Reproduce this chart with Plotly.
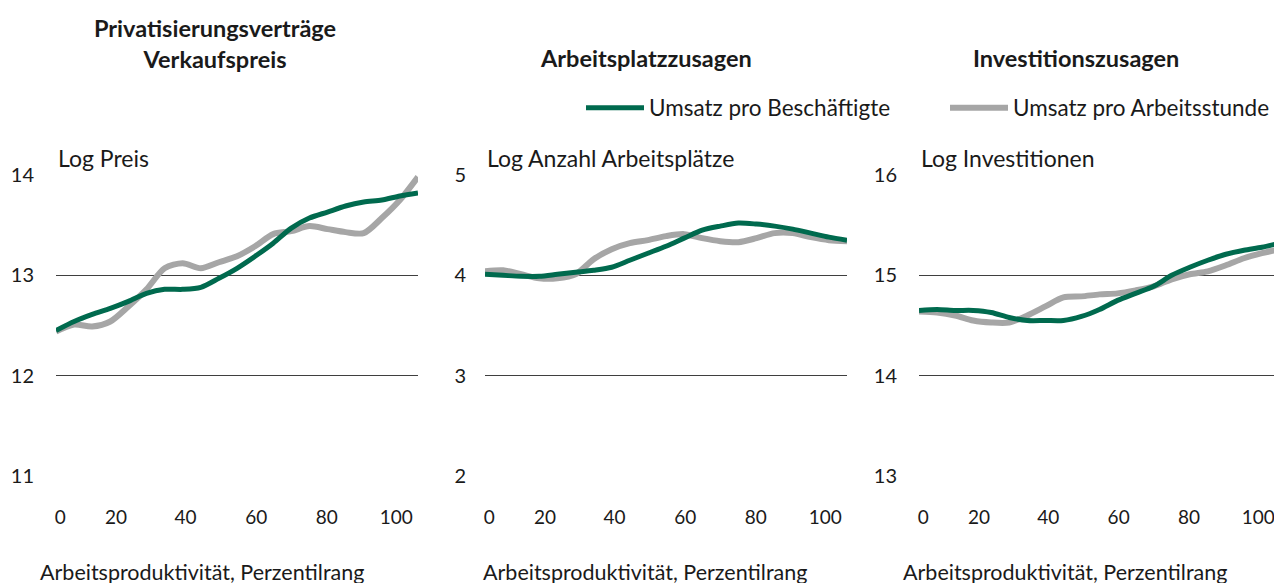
import plotly.graph_objects as go

# ---------------- data ----------------
PCT = [0, 5, 10, 15, 20, 25, 30, 35, 40, 45, 50, 55, 60, 65, 70, 75, 80, 85, 90, 95, 100]

PREIS_BESCH = [12.45, 12.54, 12.61, 12.67, 12.74, 12.82, 12.86, 12.86, 12.88, 12.97, 13.07,
               13.19, 13.32, 13.47, 13.57, 13.63, 13.69, 13.73, 13.75, 13.79, 13.82]
PREIS_STUNDE = [12.44, 12.51, 12.49, 12.54, 12.69, 12.86, 13.07, 13.12, 13.07, 13.13, 13.19,
                13.29, 13.41, 13.44, 13.49, 13.46, 13.43, 13.42, 13.57, 13.75, 13.98]

JOBS_BESCH = [4.01, 4.00, 3.99, 3.99, 4.01, 4.03, 4.05, 4.08, 4.15, 4.22, 4.29,
              4.37, 4.45, 4.49, 4.52, 4.51, 4.49, 4.46, 4.42, 4.38, 4.35]
JOBS_STUNDE = [4.04, 4.05, 4.01, 3.97, 3.97, 4.01, 4.16, 4.26, 4.32, 4.35, 4.39,
               4.41, 4.37, 4.34, 4.33, 4.37, 4.42, 4.42, 4.38, 4.35, 4.34]

INV_BESCH = [14.65, 14.66, 14.65, 14.65, 14.63, 14.58, 14.55, 14.55, 14.55, 14.59, 14.66,
             14.75, 14.82, 14.89, 15.00, 15.08, 15.15, 15.21, 15.25, 15.28, 15.32]
INV_STUNDE = [14.64, 14.63, 14.60, 14.55, 14.53, 14.53, 14.60, 14.69, 14.78, 14.79, 14.81,
              14.82, 14.85, 14.89, 14.96, 15.01, 15.04, 15.10, 15.17, 15.22, 15.26]

SERIES_NAMES = ["Umsatz pro Beschäftigte", "Umsatz pro Arbeitsstunde"]
PANEL_TITLES = ["Privatisierungsverträge<br>Verkaufspreis", "Arbeitsplatzzusagen", "Investitionszusagen"]
Y_TITLES = ["Log Preis", "Log Anzahl Arbeitsplätze", "Log Investitionen"]
X_TITLE = "Arbeitsproduktivität, Perzentilrang"
Y_RANGES = [[11, 14], [2, 5], [13, 16]]
Y_TICKS = [[11, 12, 13, 14], [2, 3, 4, 5], [13, 14, 15, 16]]
X_TICK_TEXT = ["0", "20", "40", "60", "80", "100"]
X_TICK_POS = [1.2, 16.6, 35.8, 55.3, 74.8, 94.0]

# ---------------- style ----------------
GREEN = "#006a4e"
GREY = "#a6a6a6"
GRID = "#3f3f3f"
FONT = "Lato"
TXT = "#1a1a1a"
W, H = 1282, 583
OFF = 8  # page offset of the plot div


def px(x):
    return (x - OFF) / W


def py(y):
    return 1 - (y - OFF) / H


panels = [(PREIS_BESCH, PREIS_STUNDE), (JOBS_BESCH, JOBS_STUNDE), (INV_BESCH, INV_STUNDE)]
x_px = [(56, 418), (485, 847), (919, 1280)]
y_top, y_bot = 174, 477
title_cx = [215, 646, 1076]
xtitle_cx = [202, 645, 1065]
ystandoff = [21, 18, 21]
legend_line_start = [586, 950]

fig = go.Figure()
for i, (b, s) in enumerate(panels):
    xa = "x" if i == 0 else f"x{i+1}"
    ya = "y" if i == 0 else f"y{i+1}"
    fig.add_trace(go.Scatter(x=PCT, y=s, mode="lines", name=SERIES_NAMES[1],
                             line=dict(color=GREY, width=6, shape="spline", smoothing=0.8),
                             xaxis=xa, yaxis=ya, showlegend=(i == 0), legend="legend2",
                             hoverinfo="skip"))
    fig.add_trace(go.Scatter(x=PCT, y=b, mode="lines", name=SERIES_NAMES[0],
                             line=dict(color=GREEN, width=5, shape="spline", smoothing=0.8),
                             xaxis=xa, yaxis=ya, showlegend=(i == 0), legend="legend",
                             hoverinfo="skip"))

legend_common = dict(orientation="h", xanchor="left", yanchor="middle", font=dict(size=22.5),
                     bgcolor="rgba(0,0,0,0)", itemwidth=58, borderwidth=0)
layout = dict(
    width=W, height=H, autosize=False,
    margin=dict(l=0, r=0, t=0, b=0, pad=0),
    paper_bgcolor="white", plot_bgcolor="white",
    font=dict(family=FONT, size=23, color=TXT),
    showlegend=True,
    legend=dict(x=px(legend_line_start[0] - 5), y=py(108), **legend_common),
    legend2=dict(x=px(legend_line_start[1] - 5), y=py(108), **legend_common),
)
annotations = []
for i in range(3):
    sfx = "" if i == 0 else str(i + 1)
    x0, x1 = x_px[i]
    r0, r1 = Y_RANGES[i]
    pad = (r1 - r0) * 0.003
    layout["xaxis" + sfx] = dict(
        domain=[px(x0), px(x1)], range=[0, 100], tickvals=X_TICK_POS, ticktext=X_TICK_TEXT,
        showgrid=False, zeroline=False, showline=False, ticks="", ticklabelstandoff=27,
        tickfont=dict(size=19), automargin=False, anchor="y" + sfx, fixedrange=True,
    )
    layout["yaxis" + sfx] = dict(
        domain=[py(y_bot), py(y_top)], range=[r0 - pad, r1 + pad], tickvals=Y_TICKS[i],
        showgrid=True, gridcolor=GRID, gridwidth=1, zeroline=False, showline=False,
        ticks="", ticklabelstandoff=ystandoff[i], tickfont=dict(size=20),
        automargin=False, anchor="x" + sfx, fixedrange=True,
    )
    annotations.append(dict(text=Y_TITLES[i], xref="paper", yref="paper", x=px(x0),
                            y=py(158), xanchor="left", yanchor="middle",
                            showarrow=False, font=dict(size=23)))
    annotations.append(dict(text=X_TITLE, xref="paper", yref="paper", x=px(xtitle_cx[i]),
                            y=py(572), xanchor="center", yanchor="middle",
                            showarrow=False, font=dict(size=21.5)))
    ty = 44 if i == 0 else 58
    annotations.append(dict(text="<b>" + PANEL_TITLES[i] + "</b>", xref="paper", yref="paper",
                            x=px(title_cx[i]), y=py(ty), xanchor="center",
                            yanchor="middle", showarrow=False, font=dict(size=23.5)))
layout["annotations"] = annotations
fig.update_layout(**layout)

fig.write_html("out.html")
